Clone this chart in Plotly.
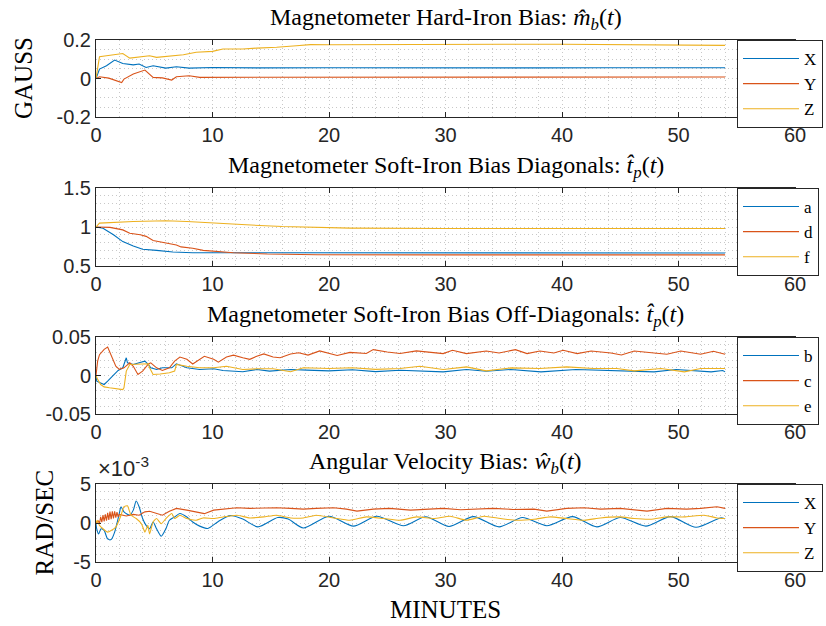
import plotly.graph_objects as go

# ---------------- data (minutes, value) ----------------
# Panel 1: hard-iron bias (gauss)
mb_x = [(0, 0), (0.3, 0.049), (0.9, 0.066), (1.6, 0.096), (2.3, 0.078), (3.2, 0.071), (3.7, 0.075),
        (4.3, 0.057), (4.9, 0.066), (6.0, 0.054), (6.9, 0.061), (8.0, 0.054), (10, 0.057), (14, 0.055),
        (20, 0.056), (26, 0.055), (32, 0.056), (38, 0.055), (44, 0.056), (50, 0.055), (54, 0.056)]
mb_y = [(0, 0), (0.3, 0.009), (1.1, 0.002), (1.7, -0.009), (2.2, -0.021), (2.4, -0.003), (3.2, 0.023),
        (4.2, 0.044), (4.9, 0.006), (5.7, 0.003), (6.5, -0.008), (6.9, 0.009), (8.0, 0.014), (8.9, 0.006),
        (10, 0.006), (15, 0.008), (20, 0.008), (30, 0.008), (40, 0.008), (50, 0.008), (54, 0.008)]
mb_z = [(0, 0), (0.3, 0.113), (0.9, 0.118), (2.3, 0.13), (2.9, 0.106), (3.7, 0.11), (4.6, 0.118),
        (5.2, 0.11), (6.3, 0.117), (7.5, 0.123), (8.6, 0.136), (10, 0.141), (10.9, 0.153), (12.6, 0.153),
        (13.8, 0.158), (15.5, 0.162), (17.2, 0.17), (18.4, 0.176), (20, 0.175), (25, 0.177), (30, 0.176),
        (35, 0.178), (40, 0.178), (45, 0.177), (50, 0.176), (54, 0.172)]

# Panel 2: soft-iron diagonals
tp_a = [(0, 1.0), (0.6, 0.985), (1.5, 0.90), (2.3, 0.813), (3.2, 0.757), (4.0, 0.715), (5.2, 0.70),
        (6.6, 0.68), (8.3, 0.67), (10, 0.67), (11.8, 0.665), (20, 0.665), (30, 0.667), (40, 0.667),
        (50, 0.667), (54, 0.667)]
tp_d = [(0, 1.0), (1.2, 0.995), (2.3, 0.963), (2.9, 0.92), (3.8, 0.90), (4.3, 0.88), (4.9, 0.826),
        (6.0, 0.80), (6.9, 0.77), (7.3, 0.745), (8.3, 0.728), (9.2, 0.70), (10.3, 0.69), (11.8, 0.67),
        (14.7, 0.654), (19, 0.645), (30, 0.642), (40, 0.642), (50, 0.642), (54, 0.642)]
tp_f = [(0, 1.0), (0.3, 1.05), (3.2, 1.07), (6.0, 1.08), (7.8, 1.07), (10, 1.05), (12.9, 1.028),
        (16, 1.006), (18.9, 0.993), (21.8, 0.985), (30, 0.98), (40, 0.98), (50, 0.98), (54, 0.98)]

# Panel 3: soft-iron off-diagonals
tp_b = [(0, 0), (0.06, -0.0074), (0.4, -0.0096), (0.7, -0.0117), (1.0, -0.0074), (1.4, -0.0009),
        (1.9, 0.0065), (2.3, 0.010), (2.6, 0.023), (2.7, 0.0165), (3.2, 0.0143), (3.7, 0.0165),
        (4.2, 0.0187), (4.5, 0.0143), (4.7, 0.010), (5.2, 0.0078), (5.7, 0.010), (6.5, 0.010),
        (6.9, 0.0152), (7.8, 0.010), (8.9, 0.0078), (10.1, 0.0087), (10.9, 0.0065), (12.6, 0.0048),
        (13.8, 0.0078), (14.9, 0.0057), (16.7, 0.0078), (18.1, 0.007), (20, 0.006), (22, 0.0075),
        (24, 0.005), (26.1, 0.0069), (29.8, 0.0047), (31.8, 0.0078), (33.5, 0.0056), (35.6, 0.0078),
        (38.2, 0.0047), (41.2, 0.0078), (44.6, 0.006), (47.9, 0.0047), (49.8, 0.0078), (52.8, 0.0047),
        (53.8, 0.0065), (54, 0.0047)]
tp_c = [(0, 0), (0.14, 0.0187), (0.3, 0.027), (0.7, 0.034), (1.0, 0.037), (1.15, 0.032), (1.4, 0.023),
        (1.7, 0.012), (2.0, 0.008), (2.4, 0.010), (2.9, 0.0165), (3.2, 0.012), (3.6, 0.0013), (4.0, 0.0057),
        (4.5, 0.015), (4.7, 0.0165), (5.2, 0.010), (5.7, 0.0065), (6.3, 0.010), (6.75, 0.0187), (7.2, 0.024),
        (7.8, 0.021), (8.3, 0.015), (8.9, 0.021), (9.3, 0.025), (10.1, 0.021), (10.5, 0.0174), (11.2, 0.024),
        (11.8, 0.0265), (12.6, 0.023), (13.2, 0.021), (13.8, 0.025), (14.4, 0.028), (15.2, 0.024),
        (15.8, 0.023), (16.7, 0.028), (17.4, 0.0296), (18.2, 0.0265), (19.2, 0.032), (20.7, 0.026),
        (21.8, 0.030), (23.2, 0.0285), (23.8, 0.0336), (25, 0.0306), (26.1, 0.0285), (27.5, 0.032),
        (29.8, 0.0284), (30.6, 0.0328), (31.8, 0.0284), (33.5, 0.0319), (34.6, 0.0293), (36, 0.0336),
        (37, 0.0284), (38.1, 0.0319), (39.3, 0.0293), (40.1, 0.0328), (41.3, 0.0284), (42.5, 0.0319),
        (44.2, 0.0293), (45.1, 0.0267), (46.2, 0.0319), (47.9, 0.0293), (49, 0.0276), (50.2, 0.0319),
        (51.9, 0.0276), (53, 0.0315), (54, 0.0276)]
tp_e = [(0, 0), (0.14, -0.005), (0.4, -0.0117), (0.7, -0.0148), (1.15, -0.016), (1.7, -0.017),
        (2.3, -0.0183), (2.4, -0.016), (2.6, 0.0057), (2.9, 0.0143), (3.7, 0.0152), (4.5, 0.0152),
        (4.6, 0.010), (4.9, 0.0013), (5.5, 0.002), (6.3, 0.0035), (6.75, 0.0057), (6.9, 0.0143),
        (7.8, 0.012), (8.9, 0.010), (10.1, 0.010), (11.2, 0.012), (12.6, 0.0078), (13.8, 0.0087),
        (15.2, 0.0087), (16.7, 0.0048), (17.8, 0.010), (20, 0.009), (22, 0.010), (24, 0.008),
        (26.1, 0.0091), (27.8, 0.0121), (29.8, 0.0078), (31.8, 0.0112), (33.5, 0.006), (35.6, 0.0099),
        (38.1, 0.0091), (40.4, 0.0112), (42.7, 0.0091), (44.7, 0.0091), (46.2, 0.006), (48.5, 0.0091),
        (50.5, 0.0047), (51.9, 0.0091), (54, 0.0091)]

# Panel 4: angular velocity bias (units of 1e-3 rad/s)
wb_x = [(0, -0.1), (0.06, -0.74), (0.23, -1.4), (0.43, -0.74), (0.7, -0.96), (1.0, -2.04), (1.3, -2.13),
        (1.6, -1.17), (2.0, 1.22), (2.15, 2.09), (2.4, 1.43), (2.9, 1.0), (3.2, 1.65), (3.45, 2.83),
        (3.7, 2.09), (4.0, 0.57), (4.3, -0.3), (4.6, -0.74), (4.9, 0.13), (5.2, -0.74), (5.6, -1.7),
        (6.0, -0.74), (6.3, 0.35), (6.75, 0.78), (7.2, 1.22), (7.8, 0.78), (8.3, 0.13), (8.9, -0.4),
        (9.6, -0.7), (10.5, 0.2), (11.5, 0.95), (12.6, 0.5), (13.9, -0.5), (15.6, 0.7), (16.5, 0.5),
        (17.8, -0.65), (20, 0.87), (22.1, -0.4), (24.1, 0.87), (26.4, -0.35), (28.3, 0.8), (30.3, -0.45),
        (32.4, 0.82), (34.6, -0.5), (36.6, 0.7), (38.7, -0.35), (40.9, 0.82), (43, -0.5), (45, 0.7),
        (47.2, -0.4), (49.3, 0.82), (51.5, -0.55), (53.6, 0.65), (54, 0.55)]
wb_y = [(0, -0.1), (0.2, 0.3), (0.3, -0.1), (0.4, 0.8), (0.5, 0.1), (0.6, 1.0), (0.7, 0.2), (0.8, 1.1),
        (0.9, 0.3), (1.0, 1.3), (1.1, 0.4), (1.2, 1.45), (1.3, 0.5), (1.4, 1.5), (1.5, 0.6), (1.6, 1.5),
        (1.7, 0.7), (1.8, 1.4), (1.9, 0.8), (2.0, 1.1), (2.6, 0.9), (3.2, 1.1), (3.7, 1.0), (4.2, 1.43),
        (4.6, 1.5), (5.2, 1.2), (5.7, 1.0), (6.3, 1.5), (6.9, 1.87), (7.8, 1.65), (8.6, 1.43), (9.3, 1.2),
        (10.1, 1.65), (10.9, 1.8), (12.1, 1.96), (13.2, 1.87), (14.4, 1.96), (15.5, 1.96), (16.7, 1.87),
        (17.8, 1.78), (18.9, 1.87), (20.4, 1.96), (21.5, 1.78), (22.4, 1.52), (23.8, 1.78), (25.2, 1.87),
        (27, 1.65), (28.4, 1.78), (29.8, 1.87), (31.3, 1.7), (32.4, 1.78), (34.1, 1.87), (35.8, 1.74),
        (37.6, 1.78), (38.7, 1.52), (40.4, 1.87), (41.9, 1.96), (43.3, 1.78), (45, 1.87), (47.3, 1.52),
        (49, 1.87), (50.7, 1.78), (51.9, 1.87), (53.3, 2.09), (54, 1.87)]
wb_z = [(0, 0), (0.1, 0.35), (0.3, -0.3), (0.6, -0.74), (1.0, -1.17), (1.3, -0.96), (1.7, -0.52),
        (2.15, 1.0), (2.4, 2.09), (2.7, 2.2), (3.0, 1.0), (3.45, 0.57), (3.9, -0.09), (4.2, -1.17),
        (4.45, -0.3), (4.6, -1.4), (4.9, 0.13), (5.2, 0.57), (5.6, -0.09), (6.0, 0.57), (6.5, 1.22),
        (6.75, 0.57), (7.2, 1.0), (7.8, 0.57), (8.6, 0.35), (9.2, 0.65), (10.1, 0.57), (10.9, 0.78),
        (12.1, 1.0), (13.2, 0.65), (14.4, 0.78), (15.5, 1.0), (16.7, 0.65), (17.8, 0.65), (18.9, 1.0),
        (20.4, 0.65), (21.8, 0.35), (23.2, 0.78), (24.7, 0.57), (26.1, 0.35), (27.5, 0.78), (29, 0.57),
        (30.4, 0.87), (31.8, 0.35), (33.3, 0.87), (34.7, 0.57), (36.1, 0.35), (37.6, 0.48), (39, 0.78),
        (40.4, 0.57), (41.9, 0.35), (43.3, 0.65), (45, 0.78), (46.2, 0.57), (47.6, 0.48), (49, 0.78),
        (50.5, 0.78), (52.2, 1.0), (53.3, 0.65), (54, 0.57)]
WB_SCALE = 1e-3

x_ticks = [0, 10, 20, 30, 40, 50, 60]
panel_titles = [
    "Magnetometer Hard-Iron Bias: <i>m\u0302</i><sub><i>b</i></sub>(<i>t</i>)",
    "Magnetometer Soft-Iron Bias Diagonals: <i>t\u0302</i><sub><i>p</i></sub>(<i>t</i>)",
    "Magnetometer Soft-Iron Bias Off-Diagonals: <i>t\u0302</i><sub><i>p</i></sub>(<i>t</i>)",
    "Angular Velocity Bias: <i>w\u0302</i><sub><i>b</i></sub>(<i>t</i>)",
]
y_tickvals = [[-0.2, 0, 0.2], [0.5, 1, 1.5], [-0.05, 0, 0.05], [-5e-3, 0, 5e-3]]
y_ticktext = [["-0.2", "0", "0.2"], ["0.5", "1", "1.5"], ["-0.05", "0", "0.05"], ["-5", "0", "5"]]
y_minor = [0.05, 0.1, 0.01, 1e-3]
series = [
    [("X", mb_x, 1), ("Y", mb_y, 1), ("Z", mb_z, 1)],
    [("a", tp_a, 1), ("d", tp_d, 1), ("f", tp_f, 1)],
    [("b", tp_b, 1), ("c", tp_c, 1), ("e", tp_e, 1)],
    [("X", wb_x, WB_SCALE), ("Y", wb_y, WB_SCALE), ("Z", wb_z, WB_SCALE)],
]
smooth = [[0, 0, 0], [0, 0, 0], [0, 0, 0], [0.7, 0, 0.5]]
colors = ["#0072BD", "#D95319", "#EDB120"]

# ---------------- layout geometry ----------------
W, H = 826, 626
x_left, x_right = 96, 795
panel_px = [(40, 117), (188, 266), (337, 414), (484, 562)]

def py(v):
    return 1 - v / H

SANS = "Liberation Sans"
SERIF = "Liberation Serif"
INK = "#262626"
GRID = "#c8c8c8"
DOT = "1px,3px"

fig = go.Figure()
layout = dict(width=W, height=H, margin=dict(l=0, r=0, t=0, b=0, autoexpand=False),
              paper_bgcolor="white", plot_bgcolor="white", showlegend=True)
annotations = []

for i in range(4):
    xa = "x" if i == 0 else f"x{i+1}"
    ya = "y" if i == 0 else f"y{i+1}"
    lg = "legend" if i == 0 else f"legend{i+1}"
    for (name, pts, sc), col, sm in zip(series[i], colors, smooth[i]):
        line = dict(color=col, width=1.1)
        if sm:
            line.update(shape="spline", smoothing=sm)
        fig.add_trace(go.Scatter(
            x=[p[0] for p in pts], y=[p[1] * sc for p in pts], mode="lines", name=name,
            line=line, xaxis=xa, yaxis=ya, legend=lg))
    top, bot = panel_px[i]
    layout["xaxis" if i == 0 else f"xaxis{i+1}"] = dict(
        domain=[x_left / W, x_right / W], range=[0, 60], anchor=ya,
        tickvals=x_ticks, ticktext=[str(v) for v in x_ticks],
        showline=True, linecolor=INK, linewidth=1, mirror="ticks",
        ticks="inside", ticklen=5, tickcolor=INK,
        tickfont=dict(family=SANS, size=20, color=INK),
        showgrid=True, gridcolor=GRID, griddash=DOT, gridwidth=1, zeroline=False,
        minor=dict(dtick=2, tick0=0, showgrid=True, gridcolor=GRID, griddash=DOT, gridwidth=1),
    )
    layout["yaxis" if i == 0 else f"yaxis{i+1}"] = dict(
        domain=[py(bot), py(top)], range=[y_tickvals[i][0], y_tickvals[i][-1]], anchor=xa,
        tickvals=y_tickvals[i], ticktext=y_ticktext[i],
        showline=True, linecolor=INK, linewidth=1, mirror="ticks",
        ticks="inside", ticklen=5, tickcolor=INK,
        tickfont=dict(family=SANS, size=20, color=INK),
        showgrid=True, gridcolor=GRID, griddash=DOT, gridwidth=1, zeroline=False,
        minor=dict(dtick=y_minor[i], tick0=y_tickvals[i][0], showgrid=True, gridcolor=GRID,
                   griddash=DOT, gridwidth=1),
    )
    layout[lg] = dict(x=737 / W, y=py(top), xanchor="left", yanchor="top",
                      bgcolor="white", bordercolor=INK, borderwidth=1,
                      font=dict(family=SERIF, size=17, color="black"),
                      itemwidth=56, tracegroupgap=0)
    annotations.append(dict(text=panel_titles[i], xref="paper", yref="paper",
                            x=(x_left + x_right) / 2 / W, y=py(top), xanchor="center", yanchor="bottom",
                            yshift=4, showarrow=False, font=dict(family=SERIF, size=24, color="black")))

annotations.append(dict(text="GAUSS", xref="paper", yref="paper", x=23.5 / W, y=py(78.5),
                        xanchor="center", yanchor="middle", textangle=-90, showarrow=False,
                        font=dict(family=SERIF, size=25, color="black")))
annotations.append(dict(text="RAD/SEC", xref="paper", yref="paper", x=44 / W, y=py(522.5),
                        xanchor="center", yanchor="middle", textangle=-90, showarrow=False,
                        font=dict(family=SERIF, size=25, color="black")))
annotations.append(dict(text="MINUTES", xref="paper", yref="paper", x=(x_left + x_right) / 2 / W, y=py(609),
                        xanchor="center", yanchor="middle", showarrow=False,
                        font=dict(family=SERIF, size=25, color="black")))
annotations.append(dict(text="\u00d710<sup>-3</sup>", xref="paper", yref="paper", x=96 / W, y=py(484),
                        xanchor="left", yanchor="bottom", yshift=1, showarrow=False,
                        font=dict(family=SANS, size=22, color=INK)))
layout["annotations"] = annotations
fig.update_layout(**layout)
fig.write_html("out.html")
